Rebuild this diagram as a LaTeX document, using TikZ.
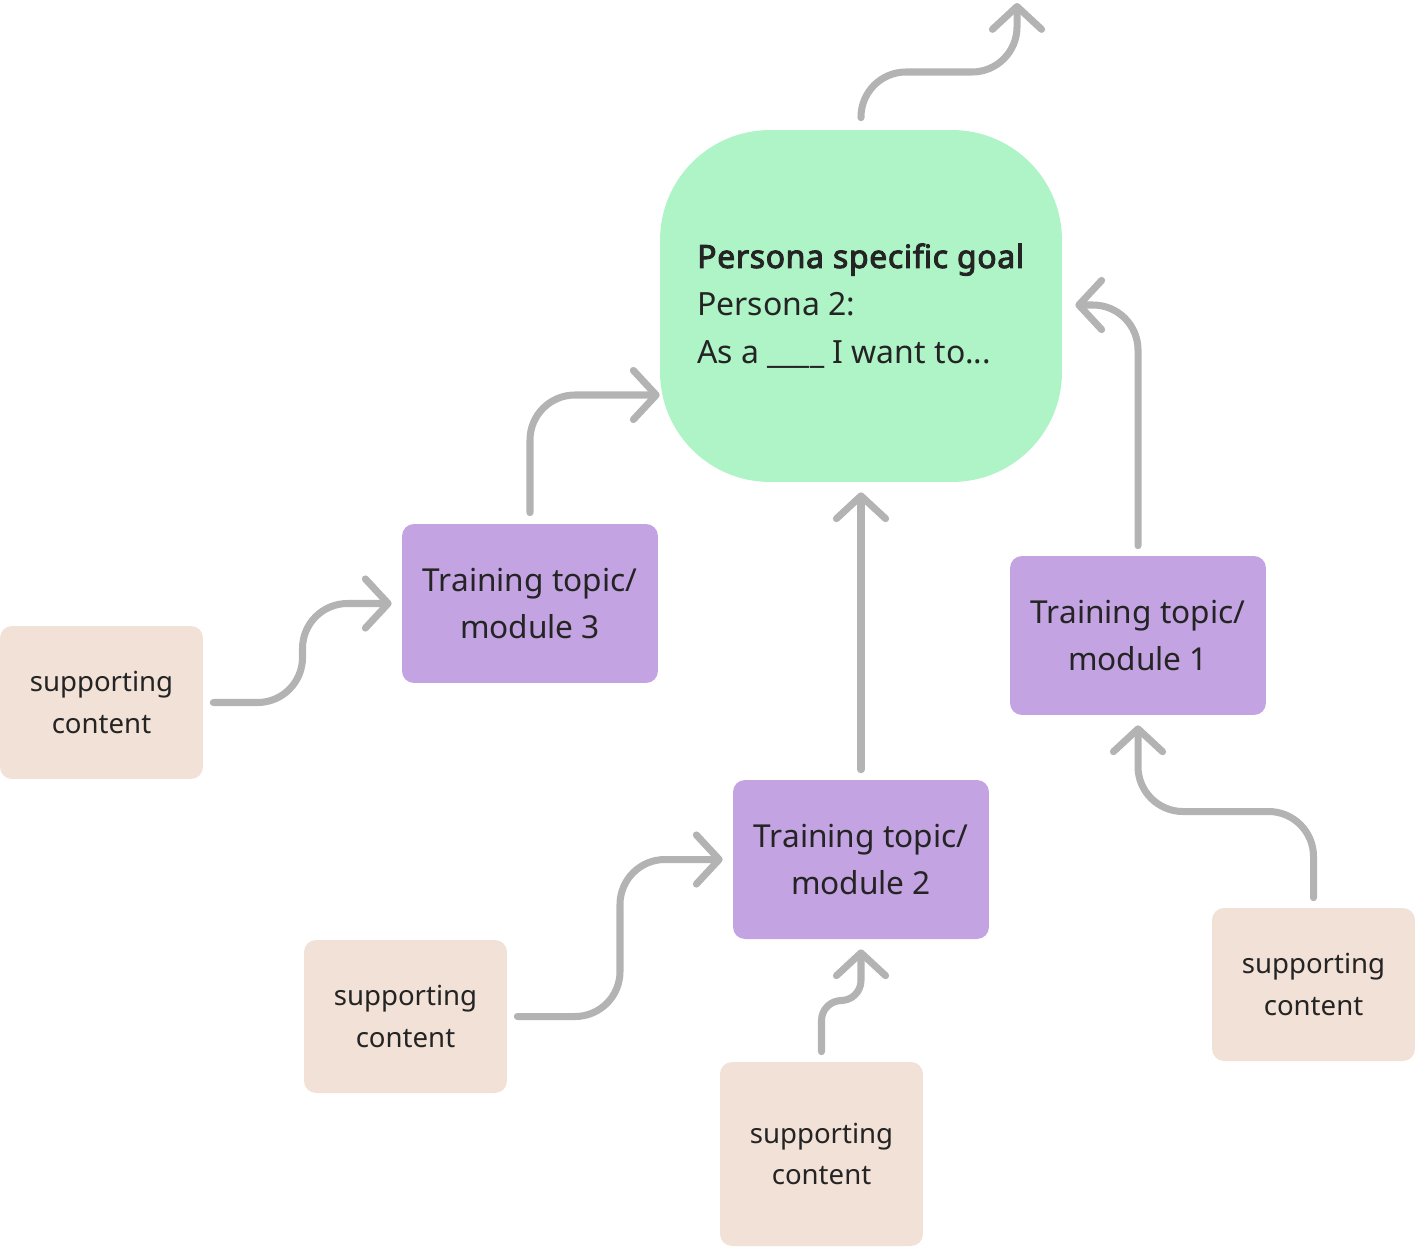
\documentclass[tikz,border=0pt]{standalone}
\usepackage{fontspec}
\setmainfont{Noto Sans}[BoldFont={Noto Sans}, BoldFeatures={FakeBold=3, LetterSpace=2}]
\usepackage{xcolor}
\usepackage{tikz}
\usetikzlibrary{calc,arrows.meta}
\definecolor{goalfill}{HTML}{AFF4C7}
\definecolor{modfill}{HTML}{C3A3E2}
\definecolor{supfill}{HTML}{F2E1D7}
\definecolor{arrowgray}{HTML}{B3B3B3}
\definecolor{ink}{HTML}{242424}
\tikzset{
  goalbox/.style={fill=goalfill, rounded corners=2.2cm, minimum width=8.04cm, minimum height=7.04cm,
    align=left, text=ink, font=\fontsize{18.2}{27.2}\selectfont},
  modbox/.style={fill=modfill, rounded corners=0.24cm, minimum width=5.12cm, minimum height=3.18cm,
    align=center, text=ink, font=\fontsize{18}{27.2}\selectfont},
  supbox/.style={fill=supfill, rounded corners=0.24cm, minimum width=4.06cm, minimum height=3.06cm,
    align=center, text=ink, font=\fontsize{15.7}{23.8}\selectfont},
  link/.style={draw=arrowgray, line width=4pt, line cap=round, line join=round, rounded corners=0.9cm,
    -{Straight Barb[round, length=13pt, width=28pt]}},
}

\begin{document}
\begin{tikzpicture}[x=0.02cm, y=-0.02cm]
  \useasboundingbox (0,0) rectangle (1416,1248);

  % goal and modules
  \node[goalbox] (goal) at (861,306) {\textbf{Persona specific goal}\\Persona 2:\\As a \_\_\_\_ I want to...};
  \node[modbox] (m3) at (530,603.5) {Training topic/\\module 3};
  \node[modbox] (m1) at (1138,635.5) {Training topic/\\module 1};
  \node[modbox] (m2) at (861,859.5) {Training topic/\\module 2};

  % supporting content
  \node[supbox] (s1) at (101.5,702.5) {supporting\\content};
  \node[supbox] (s2) at (405.5,1016.5) {supporting\\content};
  \node[supbox, minimum height=3.68cm] (s3) at (821.5,1154) {supporting\\content};
  \node[supbox] (s4) at (1313.5,984.5) {supporting\\content};

  % arrows into the goal
  \coordinate (out) at (1017,3);
  \draw[link] ($(goal.north)+(0,-12)$) |- ($(out)+(0,69)$) -- (out);
  \draw[link] ($(m3.north)+(0,-11)$) |- ($(goal.west)+(0,89)$);
  \draw[link] ($(m2.north)+(0,-10)$) -- ($(m2.north |- goal.south)+(0,10)$);
  \draw[link] ($(m1.north)+(0,-10)$) |- ($(goal.east)+(13,-1)$);

  % arrows into the modules (bends halfway)
  \coordinate (k1) at ($(s1.east)!0.5!(m3.west)$);
  \coordinate (k2) at ($(s2.east)!0.5!(m2.west)$);
  \coordinate (k3) at ($(s3.north)!0.5!(m2.south)$);
  \coordinate (k4) at ($(s4.north)!0.5!(m1.south)$);
  \draw[link] ($(s1.east)+(10,0)$) -| (k1 |- m3.west) -- ($(m3.west)+(-10,0)$);
  \draw[link] ($(s2.east)+(10,0)$) -| (k2 |- m2.west) -- ($(m2.west)+(-10,0)$);
  \draw[link, rounded corners=0.4cm] ($(s3.north)+(0,-10)$) |- (k3 -| m2.south) -- ($(m2.south)+(0,10)$);
  \draw[link] ($(s4.north)+(0,-10)$) |- (k4 -| m1.south) -- ($(m1.south)+(0,10)$);

\end{tikzpicture}
\end{document}
